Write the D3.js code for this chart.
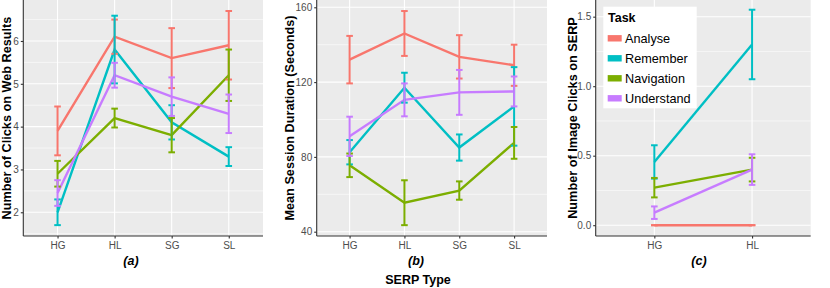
<!DOCTYPE html>
<html>
<head>
<meta charset="utf-8">
<script src="https://cdn.jsdelivr.net/npm/d3@7"></script>
<style>
  body { margin: 0; background: #fff; }
  svg { display: block; font-family: "Liberation Sans", Arial, sans-serif; }
</style>
</head>
<body>
<svg id="chart" width="830" height="288"></svg>
<script>
const tasks = ['Analyse', 'Remember', 'Navigation', 'Understand']
const colors = ['#F8766D', '#00BFC4', '#7CAE00', '#C77CFF']
const serpTypes = ['HG', 'HL', 'SG', 'SL']
const imageSerpTypes = ['HG', 'HL']

// (a) clicks on web results, one row per task
const clicksMean = [
  [3.9, 6.1, 5.6, 5.9],
  [2.0, 5.8, 4.1, 3.3],
  [2.9, 4.2, 3.8, 5.2],
  [2.45, 5.2, 4.7, 4.3]
]
const clicksErr = [
  [0.57, 0.4, 0.7, 0.8],
  [0.3, 0.79, 0.4, 0.22],
  [0.3, 0.22, 0.4, 0.6],
  [0.3, 0.29, 0.45, 0.45]
]
const clicksTicks = [2, 3, 4, 5, 6]

// (b) session duration in seconds
const durationMean = [
  [132, 146, 133.5, 129],
  [82.5, 117, 85, 107],
  [75.5, 55.5, 62, 87.5],
  [91, 110.5, 114.5, 115]
]
const durationErr = [
  [12.7, 12, 11.6, 11],
  [6.5, 8, 7, 21],
  [6.3, 12, 4.9, 8.5],
  [10.5, 8.8, 12, 8]
]
const durationTicks = [40, 80, 120, 160]

// (c) image clicks on SERP
const imageMean = [
  [0, 0],
  [0.455, 1.3],
  [0.27, 0.4],
  [0.09, 0.4]
]
const imageErr = [
  [0, 0],
  [0.12, 0.25],
  [0.07, 0.085],
  [0.045, 0.11]
]
const imageTicks = [0, 0.5, 1.0, 1.5]

const panels = [
  { left: 23.3, right: 263, domain: [1.446, 6.957], cats: serpTypes, mean: clicksMean, err: clicksErr,
    ticks: clicksTicks, fmt: d3.format('d'), title: 'Number of Clicks on Web Results', titleX: 11, tag: '(a)', tagX: 131 },
  { left: 316.7, right: 547, domain: [37.7, 163.9], cats: serpTypes, mean: durationMean, err: durationErr,
    ticks: durationTicks, fmt: d3.format('d'), title: 'Mean Session Duration (Seconds)', titleX: 294, tag: '(b)', tagX: 416 },
  { left: 595.7, right: 810.7, domain: [-0.0777, 1.62], cats: imageSerpTypes, mean: imageMean, err: imageErr,
    ticks: imageTicks, fmt: d3.format('.1f'), title: 'Number of Image Clicks on SERP', titleX: 576.5, tag: '(c)', tagX: 699 }
]

const plotTop = 0
const plotBottom = 236
const svg = d3.select('#chart')

panels.forEach((p, pi) => {
  const x = d3.scalePoint().domain(p.cats).range([p.left, p.right]).padding(0.6)
  const y = d3.scaleLinear().domain(p.domain).range([plotBottom, plotTop])
  const g = svg.append('g')

  g.append('rect')
    .attr('x', p.left).attr('y', plotTop)
    .attr('width', p.right - p.left).attr('height', plotBottom - plotTop)
    .attr('fill', '#EBEBEB')

  // minor grid lines half way between major ticks
  const step = p.ticks[1] - p.ticks[0]
  const minor = d3.range(p.ticks[0] - step / 2, p.domain[1], step).filter(v => v > p.domain[0])
  g.selectAll('.minor').data(minor).enter().append('line')
    .attr('x1', p.left).attr('x2', p.right)
    .attr('y1', d => y(d)).attr('y2', d => y(d))
    .attr('stroke', '#fff').attr('stroke-width', 0.55)

  g.selectAll('.major').data(p.ticks).enter().append('line')
    .attr('x1', p.left).attr('x2', p.right)
    .attr('y1', d => y(d)).attr('y2', d => y(d))
    .attr('stroke', '#fff').attr('stroke-width', 1.1)

  g.selectAll('.vgrid').data(p.cats).enter().append('line')
    .attr('x1', d => x(d)).attr('x2', d => x(d))
    .attr('y1', plotTop).attr('y2', plotBottom)
    .attr('stroke', '#fff').attr('stroke-width', 1.1)

  const line = d3.line().x((d, i) => x(p.cats[i])).y(d => y(d))

  p.mean.forEach((row, ti) => {
    g.append('path')
      .attr('d', line(row))
      .attr('fill', 'none')
      .attr('stroke', colors[ti])
      .attr('stroke-width', 2.4)
  })

  p.mean.forEach((row, ti) => {
    const bars = g.append('g').attr('stroke', colors[ti]).attr('stroke-width', 2).attr('fill', 'none')
    row.forEach((m, ci) => {
      const cx = x(p.cats[ci])
      const lo = y(m - p.err[ti][ci])
      const hi = y(m + p.err[ti][ci])
      bars.append('line').attr('x1', cx).attr('x2', cx).attr('y1', lo).attr('y2', hi)
      bars.append('line').attr('x1', cx - 3.3).attr('x2', cx + 3.3).attr('y1', lo).attr('y2', lo)
      bars.append('line').attr('x1', cx - 3.3).attr('x2', cx + 3.3).attr('y1', hi).attr('y2', hi)
    })
  })

  // axes
  const yAxis = g.append('g')
    .attr('transform', `translate(${p.left},0)`)
    .call(d3.axisLeft(y).tickValues(p.ticks).tickFormat(p.fmt).tickSize(2.5).tickPadding(2))
  const xAxis = g.append('g')
    .attr('transform', `translate(0,${plotBottom})`)
    .call(d3.axisBottom(x).tickSize(2.5).tickPadding(3))
  ;[yAxis, xAxis].forEach(a => {
    a.select('.domain').attr('stroke', '#333').attr('stroke-width', 1.1)
    a.selectAll('.tick line').attr('stroke', '#333').attr('stroke-width', 1.1)
    a.selectAll('text').attr('fill', '#4D4D4D').style('font-size', '10px')
      .style('font-family', '"Liberation Sans", Arial, sans-serif')
  })
  yAxis.select('.domain').attr('d', `M0,${plotTop}V${plotBottom}`)
  xAxis.select('.domain').attr('d', `M${p.left},0H${p.right}`)

  g.append('text')
    .attr('transform', `translate(${p.titleX},${(plotTop + plotBottom) / 2}) rotate(-90)`)
    .attr('text-anchor', 'middle')
    .style('font-size', '12.7px').style('font-weight', 'bold')
    .text(p.title)

  g.append('text')
    .attr('x', p.tagX).attr('y', 265)
    .attr('text-anchor', 'middle')
    .style('font-size', '12.5px').style('font-weight', 'bold').style('font-style', 'italic')
    .text(p.tag)
})

svg.append('text')
  .attr('x', 418).attr('y', 283.5)
  .attr('text-anchor', 'middle')
  .style('font-size', '12.5px').style('font-weight', 'bold')
  .text('SERP Type')

// legend
const legend = svg.append('g')
legend.append('rect')
  .attr('x', 603.3).attr('y', 6.7).attr('width', 93.4).attr('height', 101.6)
  .attr('fill', '#fff')
legend.append('text')
  .attr('x', 608).attr('y', 21.5)
  .style('font-size', '12.5px').style('font-weight', 'bold')
  .text('Task')
const ly = d3.scalePoint().domain(tasks).range([38.3, 98.3])
tasks.forEach((t, i) => {
  legend.append('rect')
    .attr('x', 607.7).attr('y', ly(t) - 3.2).attr('width', 14).attr('height', 6.4)
    .attr('fill', colors[i])
  legend.append('text')
    .attr('x', 625).attr('y', ly(t) + 4.6)
    .style('font-size', '12.7px')
    .text(t)
})
</script>
</body>
</html>
